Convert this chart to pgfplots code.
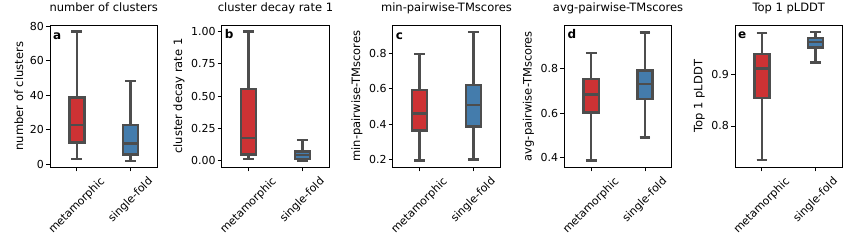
\documentclass[border=0pt]{standalone}
\usepackage{pgfplots}
\pgfplotsset{compat=1.18}
\usepgfplotslibrary{statistics}
\usepackage{graphicx}
\usepackage{fontspec}
\setmainfont{DejaVu Sans}
\definecolor{myred}{RGB}{205,50,52}
\definecolor{myblue}{RGB}{68,124,172}
\definecolor{lg}{RGB}{77,77,77}
\newcommand\ticksize{\fontsize{11bp}{13bp}\selectfont}
\newcommand\labsize{\fontsize{11.5bp}{13bp}\selectfont}
\newcommand\letsize{\fontsize{12bp}{14bp}\selectfont}
\pgfplotsset{
  panel/.style={
    scale only axis, width=107.5bp, height=142.3bp, anchor=south west,
    boxplot/draw direction=y,
    xmin=-0.5, xmax=1.5, xtick={0,1},
    xticklabels={\rotatebox{45}{metamorphic},\rotatebox{45}{single-fold}},
    xticklabel style={anchor=north, font=\ticksize, inner sep=1.5bp, yshift=-3bp},
    tick align=outside, xtick pos=bottom, ytick pos=left,
    major tick length=4bp, tick style={line width=0.8bp, black},
    axis line style={line width=0.8bp},
    minor tick num=0,
    /pgf/number format/assume math mode=true,
    yticklabel style={font=\ticksize, inner sep=2bp},
    ylabel style={font=\labsize, yshift=1bp},
    title style={font=\labsize, anchor=base, at={(0.5,1)}, yshift=7.5bp},
    clip=false,
  },
  bx/.style={draw=lg, line width=2.4bp, solid},
}
\newcommand\panelletter[1]{\node[anchor=base west, font=\letsize\bfseries, inner sep=0pt, xshift=3bp, yshift=-14bp] at (rel axis cs:0,1) {#1};}
\begin{document}
\begin{tikzpicture}
\useasboundingbox (0,0) rectangle (851bp,248bp);
% a
\begin{axis}[panel, at={(50bp,80.7bp)}, ymin=-1.8, ymax=80.6, ytick={0,20,40,60,80},
  title={number of clusters}, ylabel={number of clusters}]
\addplot[bx, fill=myred, boxplot prepared={draw position=0, lower whisker=2.9, lower quartile=12.6, median=22.7, upper quartile=38.6, upper whisker=76.8, box extend=0.28, whisker extend=0.2}] coordinates {};
\addplot[bx, fill=myblue, boxplot prepared={draw position=1, lower whisker=1.9, lower quartile=5.6, median=12, upper quartile=22.7, upper whisker=48, box extend=0.28, whisker extend=0.2}] coordinates {};
\panelletter{a}
\end{axis}
% b
\begin{axis}[panel, at={(221.7bp,80.7bp)}, ymin=-0.05, ymax=1.05, ytick={0,0.25,0.5,0.75,1},
  yticklabel style={/pgf/number format/.cd, fixed, fixed zerofill, precision=2},
  title={cluster decay rate 1}, ylabel={cluster decay rate 1}]
\addplot[bx, fill=myred, boxplot prepared={draw position=0, lower whisker=0.013, lower quartile=0.049, median=0.177, upper quartile=0.555, upper whisker=1.0, box extend=0.28, whisker extend=0.2}] coordinates {};
\addplot[bx, fill=myblue, boxplot prepared={draw position=1, lower whisker=0.0, lower quartile=0.012, median=0.046, upper quartile=0.073, upper whisker=0.161, box extend=0.28, whisker extend=0.2}] coordinates {};
\panelletter{b}
\end{axis}
% c
\begin{axis}[panel, at={(392.7bp,80.7bp)}, ymin=0.157, ymax=0.958, ytick={0.2,0.4,0.6,0.8},
  yticklabel style={/pgf/number format/.cd, fixed, fixed zerofill, precision=1},
  title={min-pairwise-TMscores}, ylabel={min-pairwise-TMscores}]
\addplot[bx, fill=myred, boxplot prepared={draw position=0, lower whisker=0.195, lower quartile=0.364, median=0.46, upper quartile=0.593, upper whisker=0.796, box extend=0.28, whisker extend=0.2}] coordinates {};
\addplot[bx, fill=myblue, boxplot prepared={draw position=1, lower whisker=0.2, lower quartile=0.386, median=0.507, upper quartile=0.621, upper whisker=0.918, box extend=0.28, whisker extend=0.2}] coordinates {};
\panelletter{c}
\end{axis}
% d
\begin{axis}[panel, at={(564.3bp,80.7bp)}, ymin=0.357, ymax=0.994, ytick={0.4,0.6,0.8},
  yticklabel style={/pgf/number format/.cd, fixed, fixed zerofill, precision=1},
  title={avg-pairwise-TMscores}, ylabel={avg-pairwise-TMscores}]
\addplot[bx, fill=myred, boxplot prepared={draw position=0, lower whisker=0.388, lower quartile=0.603, median=0.682, upper quartile=0.751, upper whisker=0.868, box extend=0.28, whisker extend=0.2}] coordinates {};
\addplot[bx, fill=myblue, boxplot prepared={draw position=1, lower whisker=0.49, lower quartile=0.663, median=0.73, upper quartile=0.791, upper whisker=0.961, box extend=0.28, whisker extend=0.2}] coordinates {};
\panelletter{d}
\end{axis}
% e
\begin{axis}[panel, at={(735bp,80.7bp)}, ymin=0.7195, ymax=0.9968, ytick={0.8,0.9},
  yticklabel style={/pgf/number format/.cd, fixed, fixed zerofill, precision=1},
  title={Top 1 pLDDT}, ylabel={Top 1 pLDDT}]
\addplot[bx, fill=myred, boxplot prepared={draw position=0, lower whisker=0.734, lower quartile=0.854, median=0.912, upper quartile=0.940, upper whisker=0.981, box extend=0.28, whisker extend=0.2}] coordinates {};
\addplot[bx, fill=myblue, boxplot prepared={draw position=1, lower whisker=0.924, lower quartile=0.953, median=0.964, upper quartile=0.972, upper whisker=0.983, box extend=0.28, whisker extend=0.2}] coordinates {};
\panelletter{e}
\end{axis}
\end{tikzpicture}
\end{document}
